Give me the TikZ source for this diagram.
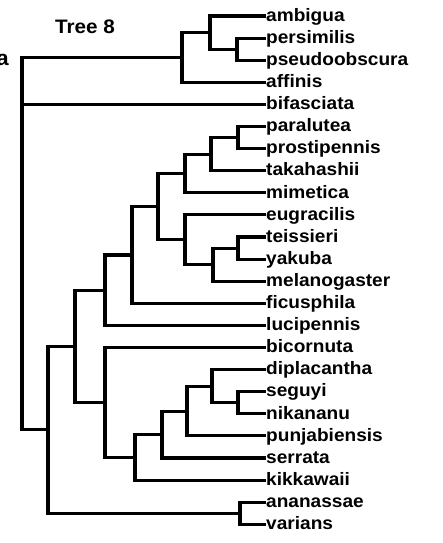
\documentclass[tikz,border=0pt]{standalone}
\usepackage{fontspec}
\newfontfamily\labfont{Liberation Sans}[FakeStretch=1.06]
\begin{document}
\begin{tikzpicture}[x=1pt,y=-1pt,
  branch/.style={line width=3.1pt, line join=miter, line cap=butt},
  lab/.style={anchor=west, inner sep=0pt, text height=12.5pt, text depth=2pt,
    font=\labfont\bfseries\fontsize{18}{21}\selectfont}]
\useasboundingbox (0,0) rectangle (443,543);
% leaves
\foreach \n [count=\i from 0] in {ambigua,persimilis,pseudoobscura,affinis,bifasciata,
  paralutea,prostipennis,takahashii,mimetica,eugracilis,teissieri,yakuba,melanogaster,
  ficusphila,lucipennis,bicornuta,diplacantha,seguyi,nikananu,punjabiensis,serrata,
  kikkawaii,ananassae,varians}
  \node[lab] (\n) at (266,{16+22.1*\i}) {\n};
\node[anchor=base west, inner sep=0pt, font=\labfont\bfseries\fontsize{19.5}{22}\selectfont] (title) at (55,34) {Tree 8};
\node[anchor=base east, inner sep=0pt, font=\labfont\bfseries\fontsize{21}{24}\selectfont] (panel) at (9,65) {a};
% internal nodes
\coordinate (pp) at (237,49.15);
\coordinate (app) at (210,32.6);
\coordinate (obs) at (182,57.45);
\coordinate (pa) at (238,137.55);
\coordinate (pat) at (211,154.1);
\coordinate (patm) at (185,173.45);
\coordinate (ty) at (238,248.05);
\coordinate (tym) at (213,264.6);
\coordinate (etym) at (185,239.75);
\coordinate (mel) at (158,206.6);
\coordinate (fic) at (132,254.95);
\coordinate (luc) at (105,290.2);
\coordinate (sn) at (238,402.75);
\coordinate (dsn) at (212,386.2);
\coordinate (pun) at (187,411.05);
\coordinate (ser) at (162,434.5);
\coordinate (kik) at (135,457.3);
\coordinate (bic) at (105,402.4);
\coordinate (top) at (75,346.3);
\coordinate (av) at (240,513.25);
\coordinate (big) at (48,429.8);
\coordinate (root) at (22,104.4);
\begin{scope}[branch]
\draw (pp) |- (persimilis.west); \draw (pp) |- (pseudoobscura.west);
\draw (app) |- (ambigua.west); \draw (app) |- (pp);
\draw (obs) |- (app); \draw (obs) |- (affinis.west);
\draw (root) |- (obs); \draw (root) |- (bifasciata.west); \draw (root) |- (big);
\draw (pa) |- (paralutea.west); \draw (pa) |- (prostipennis.west);
\draw (pat) |- (pa); \draw (pat) |- (takahashii.west);
\draw (patm) |- (pat); \draw (patm) |- (mimetica.west);
\draw (ty) |- (teissieri.west); \draw (ty) |- (yakuba.west);
\draw (tym) |- (ty); \draw (tym) |- (melanogaster.west);
\draw (etym) |- (eugracilis.west); \draw (etym) |- (tym);
\draw (mel) |- (patm); \draw (mel) |- (etym);
\draw (fic) |- (mel); \draw (fic) |- (ficusphila.west);
\draw (luc) |- (fic); \draw (luc) |- (lucipennis.west);
\draw (sn) |- (seguyi.west); \draw (sn) |- (nikananu.west);
\draw (dsn) |- (diplacantha.west); \draw (dsn) |- (sn);
\draw (pun) |- (dsn); \draw (pun) |- (punjabiensis.west);
\draw (ser) |- (pun); \draw (ser) |- (serrata.west);
\draw (kik) |- (ser); \draw (kik) |- (kikkawaii.west);
\draw (bic) |- (bicornuta.west); \draw (bic) |- (kik);
\draw (top) |- (luc); \draw (top) |- (bic);
\draw (av) |- (ananassae.west); \draw (av) |- (varians.west);
\draw (big) |- (top); \draw (big) |- (av);
\end{scope}
\end{tikzpicture}
\end{document}
